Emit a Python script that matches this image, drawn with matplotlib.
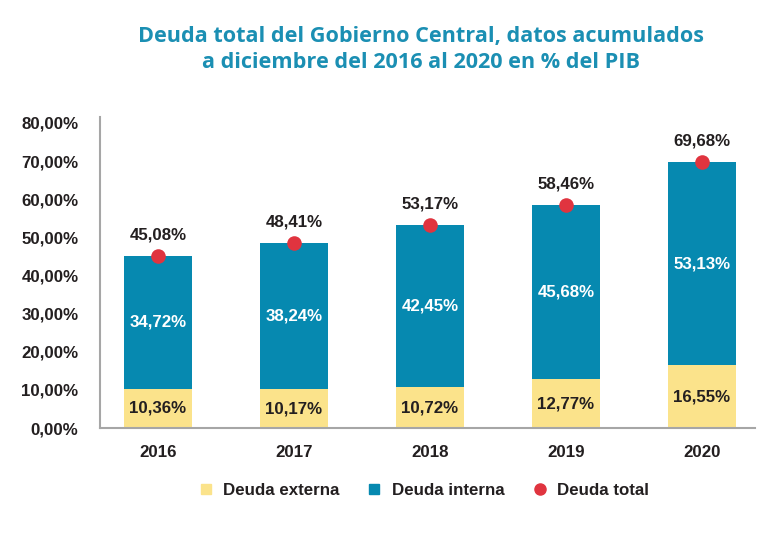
import matplotlib.pyplot as plt
from matplotlib.lines import Line2D

years = ["2016", "2017", "2018", "2019", "2020"]
externa = [10.36, 10.17, 10.72, 12.77, 16.55]
interna = [34.72, 38.24, 42.45, 45.68, 53.13]
total = [45.08, 48.41, 53.17, 58.46, 69.68]
yticks = [0, 10, 20, 30, 40, 50, 60, 70, 80]

YELLOW = "#fbe38b"
BLUE = "#0689b0"
RED = "#e0343f"
TEXT = "#231f20"
FS = 12.2


def fmt(v):
    return f"{v:.2f}%".replace(".", ",")


plt.rcParams["font.family"] = ["Liberation Sans", "DejaVu Sans"]
fig = plt.figure(figsize=(7.77, 5.46), dpi=100)
ax = fig.add_axes([0.1287, 0.216, 0.843, 0.57])

x = list(range(len(years)))
ax.bar(x, externa, width=0.5, color=YELLOW, zorder=2)
ax.bar(x, interna, width=0.5, bottom=externa, color=BLUE, zorder=2)
ax.scatter(x, total, s=110, color=RED, zorder=3, linewidths=0)

for i in x:
    ax.text(i, externa[i] / 2, fmt(externa[i]), ha="center", va="center",
            fontsize=FS, fontweight="bold", color=TEXT, zorder=4)
    ax.text(i, externa[i] + interna[i] / 2, fmt(interna[i]), ha="center",
            va="center", fontsize=FS, fontweight="bold", color="white", zorder=4)
    ax.text(i, total[i] + 3.6, fmt(total[i]), ha="center", va="bottom",
            fontsize=FS, fontweight="bold", color=TEXT, zorder=4)

ax.set_xlim(-0.426, 4.39)
ax.set_ylim(0, 81.6)
ax.set_xticks(x)
ax.set_xticklabels(years, fontsize=FS, fontweight="bold", color=TEXT)
ax.set_yticks(yticks)
ax.set_yticklabels([fmt(v) for v in yticks], fontsize=FS,
                   fontweight="bold", color=TEXT)
ax.tick_params(length=0)
ax.tick_params(axis="x", pad=12)
ax.tick_params(axis="y", pad=15.5)
for s in ["top", "right"]:
    ax.spines[s].set_visible(False)
for s in ["left", "bottom"]:
    ax.spines[s].set_color("#a6a6a6")
    ax.spines[s].set_linewidth(1.5)

fig.text(0.542, 0.909, "Deuda total del Gobierno Central, datos acumulados\n"
         "a diciembre del 2016 al 2020 en % del PIB", ha="center", va="center",
         fontsize=15.6, fontweight="bold", color="#1b8fb3", family="Open Sans",
         linespacing=1.3)

handles = [
    Line2D([], [], marker="s", ls="", color=YELLOW, markersize=7),
    Line2D([], [], marker="s", ls="", color=BLUE, markersize=7),
    Line2D([], [], marker="o", ls="", color=RED, markersize=8),
]
leg = fig.legend(handles, ["Deuda externa", "Deuda interna", "Deuda total"],
                 loc="center", bbox_to_anchor=(0.542, 0.102), ncol=3,
                 frameon=False, handletextpad=0.3, columnspacing=1.3,
                 handlelength=1.5, prop={"size": FS, "weight": "bold"})
for t in leg.get_texts():
    t.set_color(TEXT)

fig.savefig("out.png", dpi=100)
